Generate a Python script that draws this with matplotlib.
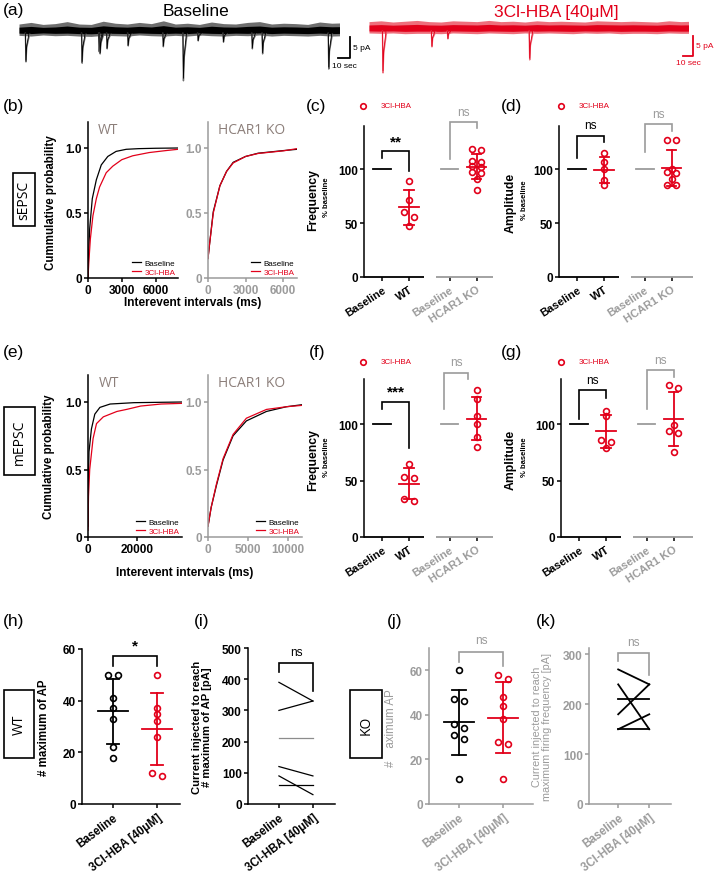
import matplotlib.pyplot as plt
from matplotlib.patches import Rectangle
import numpy as np

# 字体 / 线宽
plt.rcParams['font.family'] = ['Liberation Sans', 'DejaVu Sans']
plt.rcParams['axes.linewidth'] = 1.1
plt.rcParams['xtick.major.width'] = 1.1
plt.rcParams['ytick.major.width'] = 1.1
plt.rcParams['xtick.major.size'] = 3
plt.rcParams['ytick.major.size'] = 3

W, H = 717, 878
RED = '#e2001a'
GRAY = '#9b9b9b'
TGRAY = '#8c7f7a'

# ========================== (a) traces ==========================
trace_t = list(range(0, 281, 10))
base_hi = [1.5, 1.9, 1.4, 1.6, 2.1, 1.5, 1.4, 2.2, 1.7, 1.5, 1.9, 1.6, 2.3, 1.5,
           1.7, 1.4, 2.0, 1.6, 1.5, 1.9, 2.1, 1.5, 1.7, 1.6, 1.4, 2.0, 1.7, 1.8, 1.6]
base_lo = [1.5, 1.7, 1.4, 1.6, 1.5, 1.7, 1.8, 1.5, 1.6, 1.7, 1.4, 1.6, 1.7, 1.5,
           1.7, 1.4, 1.6, 1.7, 1.5, 1.6, 1.4, 1.7, 1.5, 1.6, 1.7, 1.5, 1.7, 1.6, 1.5]
drug_hi = [1.6, 1.8, 1.5, 1.7, 1.9, 1.6, 1.5, 1.8, 1.7, 1.6, 1.9, 1.6, 1.7, 1.5,
           1.8, 1.6, 1.7, 1.6, 1.5, 1.8, 1.7, 1.6, 1.7, 1.6, 1.5, 1.8, 1.6, 1.7, 1.6]
drug_lo = [1.4, 1.5, 1.4, 1.6, 1.5, 1.5, 1.6, 1.4, 1.5, 1.6, 1.4, 1.5, 1.6, 1.4,
           1.5, 1.4, 1.5, 1.6, 1.4, 1.5, 1.4, 1.6, 1.5, 1.5, 1.6, 1.4, 1.5, 1.5, 1.4]
base_ev_t = [5.8, 52.5, 66.7, 67.5, 73.3, 90.8, 120, 136.7, 149, 170, 194, 202.5, 257.5]
base_ev_amp = [7.6, 7.9, 5.2, 5.7, 4.5, 3.8, 4.0, 12.1, 2.6, 2.9, 4.5, 5.7, 9.3]
drug_ev_t = [11.7, 52.5, 65.8, 134]
drug_ev_amp = [10.7, 4.5, 2.6, 7.6]

# ========================== (b) sEPSC cumulative ==========================
b_wt_base_x = [0, 50, 150, 380, 740, 1180, 1760, 2500, 3400, 4500, 6000, 8000]
b_wt_base_y = [0.0, 0.17, 0.38, 0.61, 0.755, 0.87, 0.935, 0.974, 0.99, 0.995, 0.998, 1.0]
b_wt_drug_x = [0, 80, 210, 440, 740, 1030, 1620, 2200, 3000, 3970, 5440, 6910, 8000]
b_wt_drug_y = [0.0, 0.13, 0.30, 0.48, 0.61, 0.70, 0.81, 0.86, 0.91, 0.94, 0.965, 0.98, 0.99]
b_ko_x = [0, 100, 420, 950, 1480, 2010, 3000, 4000, 6000, 7100]
b_ko_base_y = [0.15, 0.24, 0.51, 0.71, 0.82, 0.89, 0.935, 0.96, 0.98, 0.99]
b_ko_drug_y = [0.15, 0.24, 0.50, 0.71, 0.82, 0.885, 0.935, 0.958, 0.978, 0.995]

# ========================== (e) mEPSC cumulative ==========================
e_wt_base_x = [0, 150, 400, 1380, 2750, 4810, 8940, 18560, 38000]
e_wt_base_y = [0.08, 0.4, 0.63, 0.80, 0.91, 0.96, 0.985, 0.995, 1.0]
e_wt_drug_x = [0, 200, 690, 2060, 3440, 6190, 11690, 15810, 21300, 29550, 38000]
e_wt_drug_y = [0.05, 0.3, 0.5, 0.73, 0.84, 0.89, 0.93, 0.946, 0.97, 0.985, 0.99]
e_ko_x = [0, 400, 1050, 1890, 3150, 4820, 7340, 9850, 11800]
e_ko_base_y = [0.08, 0.22, 0.38, 0.57, 0.75, 0.86, 0.93, 0.965, 0.98]
e_ko_drug_y = [0.08, 0.22, 0.39, 0.58, 0.76, 0.88, 0.945, 0.965, 0.975]

# ========================== (c)(d)(f)(g) % baseline ==========================
norm_labels = ['Baseline', 'WT', 'Baseline', 'HCAR1 KO']
c_wt = [89, 71, 60, 56, 47]
c_ko = [119, 118, 108, 107, 103, 102, 97, 96, 91, 81]
d_wt = [115, 107, 100, 90, 85]
d_ko = [127, 127, 100, 97, 96, 91, 85, 85]
f_wt = [65, 53, 52, 34, 32]
f_ko = [130, 122, 107, 100, 89, 80]
g_wt = [112, 107, 86, 84, 79]
g_ko = [135, 132, 99, 94, 92, 75]

# ========================== (h)-(k) AP ==========================
ap_labels = ['Baseline', '3Cl-HBA [40μM]']
h_base = [50, 50, 41, 37, 33, 22, 18]
h_drug = [50, 37, 35, 32, 26, 12, 11]
i_base = [390, 300, 210, 120, 90, 60]
i_drug = [330, 330, 210, 90, 30, 60]
j_base = [60, 47, 46, 36, 34, 31, 29, 11]
j_drug = [58, 56, 48, 44, 38, 28, 27, 11]
k_base = [270, 240, 210, 180, 150, 150]
k_drug = [240, 150, 210, 240, 180, 150]


def px_axes(fig, x0, y0, x1, y1):
    """按像素框 (左, 上, 右, 下) 建立坐标轴"""
    return fig.add_axes([x0 / W, 1 - y1 / H, (x1 - x0) / W, (y1 - y0) / H])


def swarm(vals, step, tol):
    """相近数值左右错开"""
    order = sorted(range(len(vals)), key=lambda i: -vals[i])
    offs = [0.0] * len(vals)
    i = 0
    while i < len(order):
        if i + 1 < len(order) and vals[order[i]] - vals[order[i + 1]] <= tol:
            offs[order[i]] = -step / 2
            offs[order[i + 1]] = step / 2
            i += 2
        else:
            i += 1
    return offs


def dots(ax, pos, vals, color, step, tol, mw, cw, ms=4.2):
    offs = swarm(vals, step, tol)
    ax.plot([pos + o for o in offs], vals, 'o', mfc='none', mec=color, ms=ms,
            mew=1.2, zorder=3, clip_on=False)
    m = np.mean(vals)
    sd = np.std(vals, ddof=1)
    ax.plot([pos - mw, pos + mw], [m, m], color=color, lw=1.3, zorder=4)
    ax.plot([pos, pos], [m - sd, m + sd], color=color, lw=1.3, zorder=4)
    for y in (m - sd, m + sd):
        ax.plot([pos - cw, pos + cw], [y, y], color=color, lw=1.3, zorder=4)


def bracket(ax, x1, x2, top, yl, yr, color, text, ty, fs=8.5, bold=False):
    ax.plot([x1, x1, x2, x2], [yl, top, top, yr], color=color, lw=1.2,
            clip_on=False, solid_joinstyle='miter')
    ax.text((x1 + x2) / 2, ty, text, ha='center', va='center', color=color,
            fontsize=fs, fontweight='bold' if bold else 'normal', clip_on=False)


def style_spines(ax, color):
    ax.spines[['top', 'right']].set_visible(False)
    for s in ('left', 'bottom'):
        ax.spines[s].set_color(color)
    ax.tick_params(colors=color, labelcolor=color, pad=1.5)


def trace(fig, box, ytop, hi, lo, ev_t, ev_amp, color, light):
    ax = px_axes(fig, *box)
    ax.fill_between(trace_t, [-v * 0.85 for v in lo], [v * 0.95 for v in hi],
                    color=light, lw=0)
    ax.fill_between(trace_t, [-v * 0.5 for v in lo], [v * 0.45 for v in hi],
                    color=color, lw=0)
    for t, a in zip(ev_t, ev_amp):
        ax.plot([t - 0.5, t, t + 0.6, t + 3.0], [-0.8, -a, -a * 0.55, -1.0],
                color=light, lw=1.0)
        ax.plot([t - 0.4, t, t + 0.6, t + 2.5], [-0.8, -a * 0.95, -a * 0.5, -0.8],
                color=color, lw=0.6)
    ax.set_xlim(0, 266)
    ax.set_ylim(ytop - 80 / 4.2, ytop)
    ax.axis('off')


def cdf_panel(fig, box, xmax, xticks, xticklabels, curves, title, col, legend_text_cols):
    ax = px_axes(fig, *box)
    for x, y, c, lab in curves:
        ax.plot(x, y, color=c, lw=0.9, label=lab)
    ax.set_xlim(0, xmax)
    ax.set_ylim(0, 1.2)
    ax.set_xticks(xticks, labels=xticklabels, fontweight='bold', fontsize=8.5)
    ax.set_yticks([0, 0.5, 1.0], labels=['0', '0.5', '1.0'], fontweight='bold', fontsize=8.5)
    style_spines(ax, col)
    ax.text(0.11, 0.955, title, transform=ax.transAxes, ha='left', va='center',
            fontsize=10, color=TGRAY, family=['Open Sans', 'DejaVu Sans'])
    leg = ax.legend(loc='lower right', fontsize=5.8, frameon=False, handlelength=1.1,
                    handletextpad=0.5, labelspacing=0.15, borderpad=0.1, borderaxespad=0.2)
    for txt, c in zip(leg.get_texts(), legend_text_cols):
        txt.set_color(c)
    return ax


def norm_panel(fig, box, xr, wt, ko, tol):
    ax = px_axes(fig, *box)
    ax.set_xlim(0.33, xr)
    ax.set_ylim(0, 140)
    ax.spines[['top', 'right', 'bottom']].set_visible(False)
    ax.plot([0.33, 2.55], [0, 0], color='k', lw=1.3, clip_on=False, solid_capstyle='butt')
    ax.plot([3.0, xr], [0, 0], color=GRAY, lw=1.3, clip_on=False, solid_capstyle='butt')
    ax.plot([0.67, 1.33], [100, 100], color='k', lw=1.3)
    ax.plot([3.17, 3.83], [100, 100], color=GRAY, lw=1.3)
    dots(ax, 2, wt, RED, 0.34, tol, 0.36, 0.17)
    dots(ax, 4.5, ko, RED, 0.34, tol, 0.36, 0.17)
    ax.set_xticks([1, 2, 3.5, 4.5], labels=norm_labels, rotation=33, ha='right',
                  rotation_mode='anchor', fontweight='bold', fontsize=8)
    ax.set_yticks([0, 50, 100], labels=['0', '50', '100'], fontweight='bold', fontsize=8.5)
    ax.tick_params(axis='x', pad=2)
    ax.tick_params(axis='y', pad=1.5)
    for i, tk in enumerate(ax.xaxis.get_major_ticks()):
        c = 'k' if i < 2 else GRAY
        tk.tick1line.set_color(c)
        tk.label1.set_color(c)
    return ax


def ap_axes(fig, box, xlim, ylim, yticks, col):
    ax = px_axes(fig, *box)
    ax.set_xlim(*xlim)
    ax.set_ylim(*ylim)
    style_spines(ax, col)
    ax.set_xticks([1, 2], labels=ap_labels, rotation=37, ha='right',
                  rotation_mode='anchor', fontweight='bold', fontsize=8.3)
    ax.set_yticks(yticks, labels=[str(v) for v in yticks], fontweight='bold', fontsize=8.5)
    ax.tick_params(axis='x', pad=2)
    return ax


def main():
    fig = plt.figure(figsize=(W / 100, H / 100), dpi=100)

    # (a)
    trace(fig, (19, 8, 339, 88), 23 / 4.2, base_hi, base_lo, base_ev_t, base_ev_amp,
          'k', '#6e6e6e')
    trace(fig, (369, 8, 688, 88), 21 / 4.2, drug_hi, drug_lo, drug_ev_t, drug_ev_amp,
          RED, '#ee6f7c')

    # (b)
    ax = cdf_panel(fig, (88, 123, 178, 279), 8000, [0, 3000, 6000], ['0', '3000', '6000'],
                   [(b_wt_base_x, b_wt_base_y, 'k', 'Baseline'),
                    (b_wt_drug_x, b_wt_drug_y, RED, '3Cl-HBA')],
                   'WT', 'k', ['k', RED])
    ax.set_ylabel('Cummulative probability', fontweight='bold', fontsize=8.3)
    ax.yaxis.set_label_coords(-0.34, 0.49)
    cdf_panel(fig, (208, 123, 297, 279), 7100, [0, 3000, 6000], ['0', '3000', '6000'],
              [(b_ko_x, b_ko_base_y, 'k', 'Baseline'),
               (b_ko_x, b_ko_drug_y, RED, '3Cl-HBA')],
              'HCAR1 KO', GRAY, ['k', RED])

    # (e)
    ax = cdf_panel(fig, (88, 376, 182, 538), 38000, [0, 20000], ['0', '20000'],
                   [(e_wt_base_x, e_wt_base_y, 'k', 'Baseline'),
                    (e_wt_drug_x, e_wt_drug_y, RED, '3Cl-HBA')],
                   'WT', 'k', ['k', RED])
    ax.set_ylabel('Cumulative probability', fontweight='bold', fontsize=8.3)
    ax.yaxis.set_label_coords(-0.35, 0.5)
    cdf_panel(fig, (208, 376, 302, 538), 11800, [0, 5000, 10000], ['0', '5000', '10000'],
              [(e_ko_x, e_ko_base_y, 'k', 'Baseline'),
               (e_ko_x, e_ko_drug_y, RED, '3Cl-HBA')],
              'HCAR1 KO', GRAY, ['k', RED])

    # (c)
    ax = norm_panel(fig, (364, 127, 493, 278), 5.11, c_wt, c_ko, 5)
    bracket(ax, 1, 2, 117, 110, 98, 'k', '**', 126, fs=11, bold=True)
    bracket(ax, 3.5, 4.5, 144, 109, 138, GRAY, 'ns', 153)
    # (d)
    ax = norm_panel(fig, (559, 127, 693, 278), 5.29, d_wt, d_ko, 2.5)
    bracket(ax, 1, 2, 131, 110, 125, 'k', 'ns', 141)
    bracket(ax, 3.5, 4.5, 142, 116, 135, GRAY, 'ns', 151)
    # (f)
    ax = norm_panel(fig, (364, 380, 493, 538), 5.11, f_wt, f_ko, 3)
    bracket(ax, 1, 2, 120, 113.7, 78.6, 'k', '***', 129, fs=11, bold=True)
    bracket(ax, 3.3, 4.2, 145.5, 113.7, 139.6, GRAY, 'ns', 155)
    # (g)
    ax = norm_panel(fig, (561, 380, 693, 538), 5.22, g_wt, g_ko, 3)
    bracket(ax, 1, 2, 130, 105, 123, 'k', 'ns', 139)
    bracket(ax, 3.5, 4.5, 147.6, 113.7, 141.7, GRAY, 'ns', 157)

    # (h)
    ax = ap_axes(fig, (82, 650, 180, 805), (0.3, 2.52), (0, 60), [0, 20, 40, 60], 'k')
    dots(ax, 1, h_base, 'k', 0.22, 1.5, 0.34, 0.14)
    dots(ax, 2, h_drug, RED, 0.22, 1.5, 0.34, 0.14)
    bracket(ax, 1, 2, 57.2, 53.6, 53.5, 'k', '*', 61.5, fs=11, bold=True)
    ax.set_ylabel('# maximum of AP', fontweight='bold', fontsize=8.3)
    ax.yaxis.set_label_coords(-0.33, 0.5)

    # (i)
    ax = ap_axes(fig, (248, 649, 335, 805), (0.09, 2.65), (0, 500),
                 [0, 100, 200, 300, 400, 500], 'k')
    i_cols = ['k', 'k', '#8c8c8c', 'k', 'k', 'k']
    for b, d, c in zip(i_base, i_drug, i_cols):
        ax.plot([1, 2], [b, d], color=c, lw=0.9)
    bracket(ax, 1, 2, 451, 422, 362, 'k', 'ns', 488)
    ax.set_ylabel('Current injected to reach\n# maximum of AP [pA]',
                  fontweight='bold', fontsize=8.1, linespacing=1.0)
    ax.yaxis.set_label_coords(-0.41, 0.5)

    # (j)
    ax = ap_axes(fig, (429, 649, 533, 805), (0.32, 2.68), (0, 70), [0, 20, 40, 60], GRAY)
    dots(ax, 1, j_base, 'k', 0.22, 2.5, 0.35, 0.15)
    dots(ax, 2, j_drug, RED, 0.22, 2.5, 0.35, 0.15)
    bracket(ax, 1, 2, 68, 63.5, 62, GRAY, 'ns', 73.5)
    ax.set_ylabel('#    aximum AP', fontsize=8.3, color=GRAY)
    ax.yaxis.set_label_coords(-0.31, 0.49)

    # (k)
    ax = ap_axes(fig, (589, 649, 671, 805), (0.06, 2.7), (0, 313), [0, 100, 200, 300], GRAY)
    for b, d in zip(k_base, k_drug):
        ax.plot([1, 2], [b, d], color='k', lw=1.3)
    bracket(ax, 1, 2, 303, 287, 258, GRAY, 'ns', 325)
    ax.set_ylabel('Current injected to reach\nmaximum firing frequency [pA]',
                  fontsize=7.8, color=GRAY, linespacing=1.0)
    ax.yaxis.set_label_coords(-0.45, 0.5)

    # 叠加层: 标签, 方框, 比例尺
    ov = fig.add_axes([0, 0, 1, 1])
    ov.set_xlim(0, W)
    ov.set_ylim(H, 0)
    ov.axis('off')

    for lab, x, y in [('(a)', 3, 11), ('(b)', 3, 107), ('(c)', 306, 107), ('(d)', 501, 107),
                      ('(e)', 3, 353), ('(f)', 309, 353), ('(g)', 501, 353),
                      ('(h)', 3, 622), ('(i)', 194, 622), ('(j)', 387, 622), ('(k)', 536, 622)]:
        ov.text(x, y, lab, ha='left', va='center', fontsize=12.5)

    ov.text(196, 11, 'Baseline', ha='center', va='center', fontsize=12.5)
    ov.text(556, 12, '3Cl-HBA [40μM]', ha='center', va='center', fontsize=12.5, color=RED)

    # 比例尺
    ov.plot([338, 350, 350], [59, 59, 38], color='k', lw=1.3)
    ov.text(353, 49, '5 pA', fontsize=6, va='center', ha='left')
    ov.text(344, 66.5, '10 sec', fontsize=6, va='center', ha='center')
    ov.plot([683, 693, 693], [57, 57, 37], color=RED, lw=1.3)
    ov.text(696, 47, '5 pA', fontsize=6, va='center', ha='left', color=RED)
    ov.text(688, 63.5, '10 sec', fontsize=6, va='center', ha='center', color=RED)

    # 方框
    for (x0, y0, x1, y1), txt in [((13, 174, 35, 227), 'sEPSC'), ((4, 408, 35, 476), 'mEPSC'),
                                  ((4, 691, 34, 759), 'WT'), ((350, 691, 382, 759), 'KO')]:
        ov.add_patch(Rectangle((x0, y0), x1 - x0, y1 - y0, fill=False, lw=1.2, ec='k'))
        ov.text((x0 + x1) / 2, (y0 + y1) / 2, txt, rotation=90, ha='center', va='center',
                fontsize=10, family=['Open Sans', 'DejaVu Sans'])

    # x 轴标题
    ov.text(193, 303, 'Interevent intervals (ms)', ha='center', va='center',
            fontsize=8.6, fontweight='bold')
    ov.text(185, 573, 'Interevent intervals (ms)', ha='center', va='center',
            fontsize=8.6, fontweight='bold')

    # % baseline 标题
    for x, y, name in [(313, 200, 'Frequency'), (511, 203, 'Amplitude'),
                       (313, 460, 'Frequency'), (511, 460, 'Amplitude')]:
        ov.text(x, y, name, rotation=90, ha='center', va='center', fontsize=8.8,
                fontweight='bold')
        ov.text(x + 14, y - 3, '% baseline', rotation=90, ha='center', va='center',
                fontsize=5.5, fontweight='bold')

    # 图例 (3Cl-HBA)
    for x, y in [(363, 107), (561, 107), (363, 363), (561, 363)]:
        ov.plot(x, y, 'o', mfc='none', mec=RED, ms=4, mew=1.2)
        ov.text(x + 18, y, '3Cl-HBA', ha='left', va='center', fontsize=5.8, color=RED)

    fig.savefig('out.png', dpi=100)


if __name__ == '__main__':
    main()
